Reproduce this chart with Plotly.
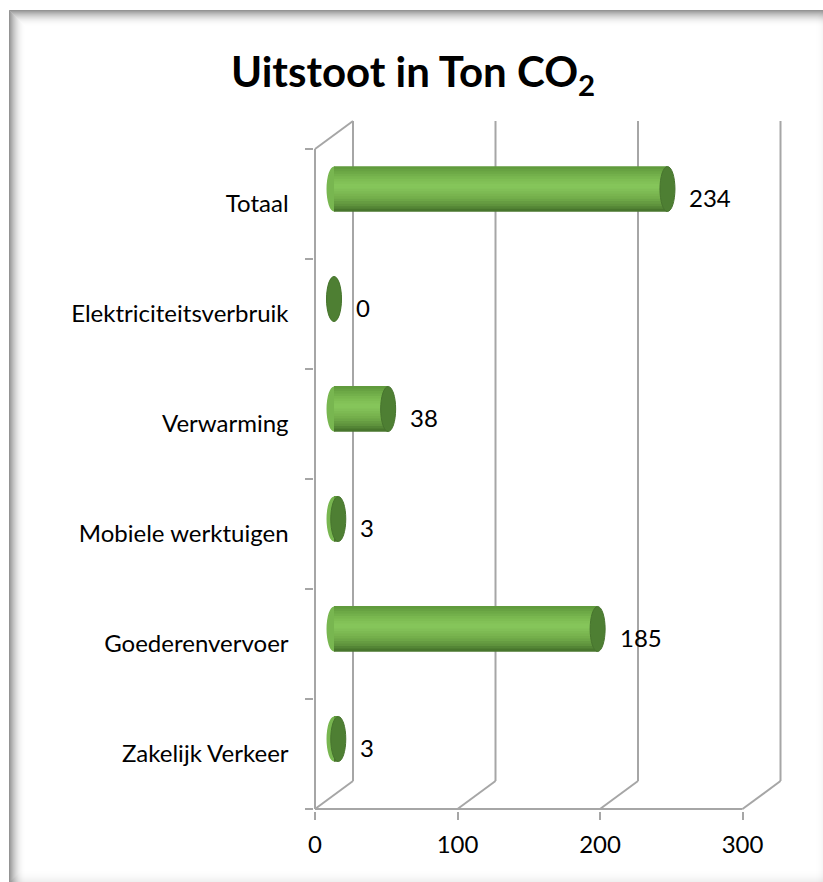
import plotly.graph_objects as go

# ---- data (bottom to top as drawn) ----
categories = ["Zakelijk Verkeer", "Goederenvervoer", "Mobiele werktuigen",
              "Verwarming", "Elektriciteitsverbruik", "Totaal"]
values = [3, 185, 3, 38, 0, 234]
x_ticks = [0, 100, 200, 300]

# ---- geometry / style constants ----
W, H = 823, 882
PXU = 1.425          # pixels per value unit
CATPX = 110          # pixels per category
X0PX = 315           # pixel of value 0 (front)
FLOORPX = 809        # pixel of floor (front)
DEPTH_X = 38 / PXU   # 3D depth offset in value units
DEPTH_Y = 28 / CATPX # 3D depth offset in category units
SHIFT = DEPTH_X / 2  # bars sit mid-depth
BOFF = 15 / CATPX    # bar centre above category centre
BH = 45 / CATPX      # bar thickness
CAPW = 7.5 / PXU     # half-width of end ellipse
GRID = "#A6A6A6"
FONT = "Lato, Calibri, Carlito, sans-serif"
FS = 24

xr = [-1.0, 340.0]
yr = [-0.52, 5.86]
cy = lambda c: FLOORPX - (c + 0.5) * CATPX
xdom = [(X0PX + xr[0] * PXU) / W, (X0PX + xr[1] * PXU) / W]
ydom = [1 - cy(yr[0]) / H, 1 - cy(yr[1]) / H]

fig = go.Figure()

# cylinder body as horizontal strips (gradient, top -> bottom)
stops = [(0.0, (0x5e, 0x98, 0x3b)), (0.3, (0x7e, 0xbd, 0x53)), (0.45, (0x87, 0xc7, 0x5c)),
         (0.7, (0x74, 0xae, 0x4b)), (0.88, (0x5c, 0x90, 0x3b)), (1.0, (0x42, 0x6e, 0x29))]


def grad(t):
    for (t0, c0), (t1, c1) in zip(stops[:-1], stops[1:]):
        if t0 <= t <= t1:
            f = (t - t0) / (t1 - t0)
            return "rgb(%d,%d,%d)" % tuple(round(a + (b - a) * f) for a, b in zip(c0, c1))
    return "rgb(%d,%d,%d)" % stops[-1][1]


n = 18
sh = BH / n
for k in range(n):
    col = grad((k + 0.5) / n)
    off = BOFF + BH / 2 - (k + 1) * sh
    fig.add_trace(go.Bar(
        y=categories, x=values, base=SHIFT, orientation="h",
        width=sh * 1.3, offset=off - sh * 0.15,
        marker=dict(color=col, line=dict(width=0)),
        hoverinfo="skip", showlegend=False))

shapes = []
lo, hi = -0.5, len(categories) - 0.5
for v in x_ticks:
    shapes.append(dict(type="line", xref="x", yref="y", x0=v, y0=lo,
                       x1=v + DEPTH_X, y1=lo + DEPTH_Y,
                       line=dict(color=GRID, width=2), layer="below"))
    shapes.append(dict(type="line", xref="x", yref="y", x0=v + DEPTH_X, y0=lo + DEPTH_Y,
                       x1=v + DEPTH_X, y1=hi + DEPTH_Y,
                       line=dict(color=GRID, width=2), layer="below"))
shapes.append(dict(type="line", xref="x", yref="y", x0=0, y0=lo, x1=x_ticks[-1], y1=lo,
                   line=dict(color=GRID, width=2), layer="below"))
shapes.append(dict(type="line", xref="x", yref="y", x0=0, y0=lo, x1=0, y1=hi,
                   line=dict(color=GRID, width=2), layer="below"))
shapes.append(dict(type="line", xref="x", yref="y", x0=0, y0=hi, x1=DEPTH_X, y1=hi + DEPTH_Y,
                   line=dict(color=GRID, width=2), layer="below"))

# cylinder ends
for i, v in enumerate(values):
    c = i + BOFF
    shapes.append(dict(type="circle", xref="x", yref="y",
                       x0=SHIFT - CAPW, x1=SHIFT + CAPW, y0=c - BH / 2, y1=c + BH / 2,
                       fillcolor="#78b650", line=dict(width=0), layer="below"))
    shapes.append(dict(type="circle", xref="x", yref="y",
                       x0=SHIFT + v - CAPW, x1=SHIFT + v + CAPW, y0=c - BH / 2, y1=c + BH / 2,
                       fillcolor="#4e7f33", line=dict(color="#47742e", width=1), layer="above"))

# frame with inner shadow
FL, FT = 9.5, 10.5
for i in range(16):
    a = 0.42 * (1 - i / 16) ** 2
    col = f"rgba(0,0,0,{a:.3f})"
    shapes.append(dict(type="line", xref="paper", yref="paper",
                       x0=(FL + i) / W, x1=(FL + i) / W, y0=0, y1=1 - (FT + i) / H,
                       line=dict(color=col, width=1)))
    shapes.append(dict(type="line", xref="paper", yref="paper",
                       x0=(FL + i) / W, x1=1, y0=1 - (FT + i) / H, y1=1 - (FT + i) / H,
                       line=dict(color=col, width=1)))
for i in range(12):
    a = 0.06 * (1 - i / 12) ** 2
    col = f"rgba(0,0,0,{a:.3f})"
    shapes.append(dict(type="line", xref="paper", yref="paper",
                       x0=(FL + 1 + i) / W, x1=1, y0=(i + 0.5) / H, y1=(i + 0.5) / H,
                       line=dict(color=col, width=1)))
for i in range(8):
    a = 0.03 * (1 - i / 8) ** 2
    col = f"rgba(0,0,0,{a:.3f})"
    shapes.append(dict(type="line", xref="paper", yref="paper",
                       x0=1 - (i + 0.5) / W, x1=1 - (i + 0.5) / W, y0=0, y1=1 - (FT + 1 + i) / H,
                       line=dict(color=col, width=1)))

annotations = []
for cat, v in zip(categories, values):
    annotations.append(dict(x=SHIFT + v, y=cat, xref="x", yref="y", text=str(v),
                            showarrow=False, xanchor="left", yanchor="middle",
                            xshift=20, yshift=7,
                            font=dict(family=FONT, size=FS, color="#000000")))

fig.update_layout(
    width=W, height=H,
    margin=dict(l=0, r=0, t=0, b=0, autoexpand=False),
    paper_bgcolor="white", plot_bgcolor="rgba(0,0,0,0)",
    barmode="overlay",
    title=dict(text="Uitstoot in Ton CO<sub>2</sub>", x=413 / W, xanchor="center",
               y=1 - 72 / H, yanchor="middle", yref="container",
               font=dict(family=FONT, size=42, color="#000000", weight="bold")),
    shapes=shapes, annotations=annotations,
    xaxis=dict(domain=xdom, range=xr, tickvals=x_ticks, showgrid=False, zeroline=False,
               showline=False, ticks="outside", ticklen=8, tickcolor=GRID, tickwidth=2,
               ticklabelstandoff=4,
               tickfont=dict(family=FONT, size=FS, color="#000000")),
    yaxis=dict(domain=ydom, range=yr, type="category", categoryorder="array",
               categoryarray=categories, showgrid=False, zeroline=False, showline=False,
               ticks="outside", tickson="boundaries", ticklen=8, tickcolor=GRID, tickwidth=2,
               ticklabelstandoff=24,
               tickfont=dict(family=FONT, size=FS, color="#000000")),
)

fig.write_html("out.html", config={"displayModeBar": False},
               post_script="document.body.style.margin='0';document.body.style.padding='0';")
